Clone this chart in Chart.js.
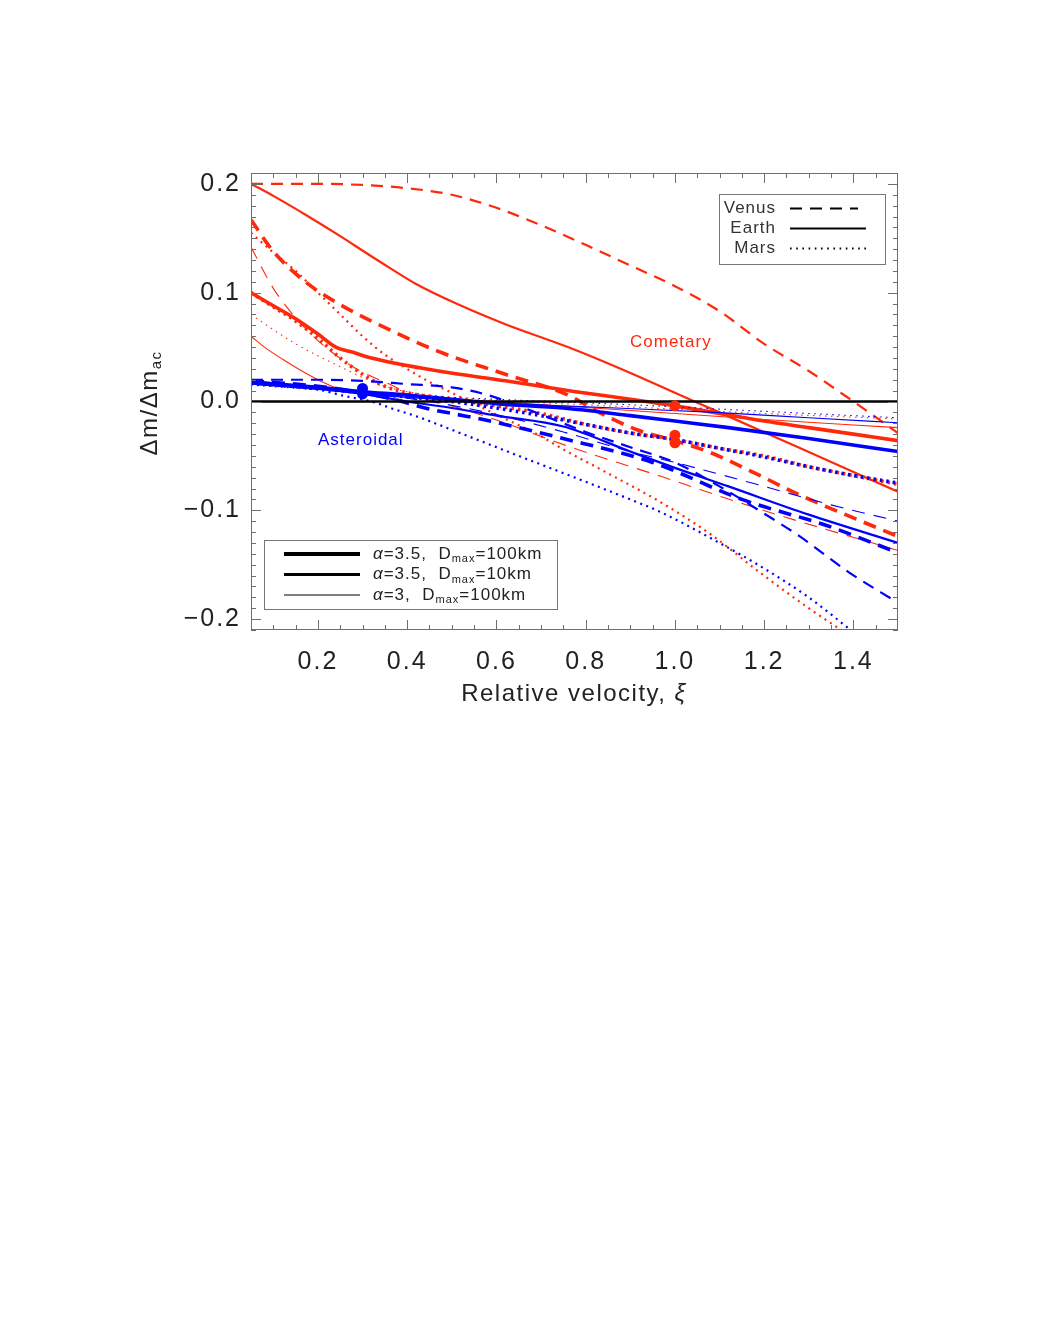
<!DOCTYPE html>
<html>
<head>
<meta charset="utf-8">
<title>Mass deviation vs relative velocity</title>
<script src="https://cdn.jsdelivr.net/npm/chart.js@4.4.1/dist/chart.umd.min.js"></script>
<style>
    html, body { margin: 0; padding: 0; background: #fff; }
    #wrap { position: relative; width: 1038px; height: 1343px; }
</style>
</head>
<body>
<div id="wrap"><canvas id="massChart"></canvas></div>
<script>
// --- Data ---
const xiTicks = [0.2, 0.4, 0.6, 0.8, 1.0, 1.2, 1.4];
const dmTicks = [-0.2, -0.1, 0.0, 0.1, 0.2];

// Cometary (red)
const cometVenusThick = [[0.05,0.167],[0.1,0.138],[0.175,0.109],[0.25,0.089],[0.36,0.066],[0.47,0.046],[0.62,0.025],[0.76,0.006],[0.83,-0.010],[0.915,-0.026],[1.0,-0.036],[1.08,-0.047],[1.19,-0.068],[1.28,-0.086],[1.4,-0.107],[1.5,-0.124]];
const cometVenusMid = [[0.05,0.2],[0.2,0.2],[0.3,0.199],[0.4,0.196],[0.5,0.19],[0.6,0.178],[0.7,0.162],[0.8,0.144],[0.9,0.125],[1.0,0.106],[1.1,0.083],[1.2,0.053],[1.3,0.028],[1.4,0.0],[1.5,-0.029]];
const cometVenusThin = [[0.05,0.142],[0.1,0.104],[0.15,0.077],[0.2,0.056],[0.27,0.034],[0.31,0.025],[0.36,0.016],[0.41,0.006],[0.5,-0.004],[0.6,-0.017],[0.76,-0.041],[0.97,-0.069],[1.19,-0.099],[1.5,-0.137]];
const cometEarthThick = [[0.05,0.1],[0.1,0.088],[0.15,0.076],[0.2,0.062],[0.24,0.05],[0.28,0.045],[0.32,0.04],[0.47,0.028],[0.62,0.019],[0.77,0.0095],[0.9,0.002],[1.0,-0.004],[1.1,-0.011],[1.2,-0.018],[1.3,-0.024],[1.4,-0.03],[1.5,-0.036]];
const cometEarthMid = [[0.05,0.2],[0.1,0.189],[0.175,0.171],[0.25,0.152],[0.31,0.136],[0.36,0.123],[0.42,0.108],[0.51,0.09],[0.62,0.071],[0.76,0.05],[0.89,0.028],[1.0,0.008],[1.1,-0.01],[1.27,-0.041],[1.5,-0.083]];
const cometEarthThin = [[0.05,0.06],[0.08,0.05],[0.12,0.039],[0.16,0.029],[0.22,0.016],[0.25,0.011],[0.3,0.008],[0.4,0.005],[0.6,0.0],[0.8,-0.0055],[1.0,-0.011],[1.2,-0.0165],[1.5,-0.024]];
const cometMarsThick = [[0.05,0.1],[0.1,0.087],[0.15,0.074],[0.2,0.058],[0.25,0.04],[0.3,0.025],[0.35,0.014],[0.4,0.008],[0.5,0.002],[0.6,-0.004],[0.7,-0.011],[0.8,-0.021],[0.9,-0.029],[1.0,-0.035],[1.1,-0.043],[1.2,-0.05],[1.3,-0.06],[1.4,-0.068],[1.5,-0.076]];
const cometMarsMid = [[0.05,0.155],[0.1,0.137],[0.15,0.12],[0.2,0.1],[0.25,0.08],[0.3,0.06],[0.35,0.043],[0.4,0.03],[0.45,0.018],[0.5,0.008],[0.6,-0.012],[0.7,-0.032],[0.75,-0.044],[0.85,-0.066],[0.97,-0.093],[1.08,-0.122],[1.19,-0.157],[1.3,-0.19],[1.38,-0.212]];
const cometMarsThin = [[0.05,0.08],[0.1,0.066],[0.15,0.053],[0.2,0.042],[0.25,0.032],[0.3,0.022],[0.35,0.014],[0.4,0.009],[0.5,0.004],[0.6,0.001],[0.8,-0.003],[1.0,-0.007],[1.2,-0.011],[1.5,-0.016]];

// Asteroidal (blue)
const astVenusThick = [[0.05,0.019],[0.2,0.014],[0.3,0.008],[0.38,0.001],[0.44,-0.006],[0.5,-0.011],[0.57,-0.0165],[0.65,-0.024],[0.74,-0.033],[0.95,-0.056],[1.15,-0.09],[1.34,-0.114],[1.5,-0.139]];
const astVenusMid = [[0.05,0.02],[0.2,0.02],[0.3,0.019],[0.4,0.016],[0.5,0.013],[0.58,0.006],[0.7,-0.012],[0.8,-0.028],[0.9,-0.042],[1.0,-0.056],[1.1,-0.078],[1.2,-0.103],[1.28,-0.124],[1.39,-0.157],[1.5,-0.185]];
const astVenusThin = [[0.05,0.016],[0.2,0.012],[0.3,0.008],[0.45,0.0],[0.6,-0.012],[0.75,-0.028],[0.9,-0.046],[1.0,-0.056],[1.2,-0.078],[1.35,-0.095],[1.5,-0.11]];
const astEarthThick = [[0.05,0.018],[0.2,0.013],[0.3,0.009],[0.4,0.006],[0.5,0.002],[0.6,-0.002],[0.75,-0.006],[0.9,-0.013],[1.0,-0.018],[1.12,-0.024],[1.3,-0.034],[1.5,-0.046]];
const astEarthMid = [[0.05,0.018],[0.2,0.012],[0.3,0.007],[0.4,0.0],[0.5,-0.006],[0.6,-0.013],[0.75,-0.023],[0.9,-0.046],[1.0,-0.061],[1.12,-0.078],[1.3,-0.104],[1.5,-0.13]];
const astEarthThin = [[0.05,0.016],[0.2,0.011],[0.3,0.007],[0.5,0.001],[0.75,-0.004],[1.09,-0.01],[1.3,-0.015],[1.5,-0.0195]];
const astMarsThick = [[0.05,0.018],[0.3,0.008],[0.5,0.0],[0.6,-0.006],[0.7,-0.013],[0.8,-0.021],[0.9,-0.029],[1.0,-0.035],[1.1,-0.043],[1.2,-0.051],[1.3,-0.06],[1.4,-0.068],[1.5,-0.075]];
const astMarsMid = [[0.05,0.016],[0.15,0.013],[0.2,0.011],[0.26,0.005],[0.32,0.0],[0.37,-0.007],[0.42,-0.0135],[0.5,-0.026],[0.65,-0.05],[0.77,-0.069],[0.9,-0.09],[0.97,-0.102],[1.1,-0.13],[1.19,-0.151],[1.3,-0.18],[1.4,-0.212]];
const astMarsThin = [[0.05,0.015],[0.3,0.008],[0.6,0.002],[0.9,-0.003],[1.2,-0.009],[1.5,-0.015]];

// Reference values marked by dots
const dotXi    = [0.3, 0.3, 1.0, 1.0, 1.0];
const dotDm    = [0.007, 0.012, -0.004, -0.031, -0.038];
const dotGroup = ['ast', 'ast', 'comet', 'comet', 'comet'];

const zeroLine = [[0.05, 0], [1.5, 0]];

// --- Styles ---
const RED = 'rgb(255,40,10)';
const BLUE = 'rgb(0,0,255)';
const WIDTH = { thick: 3.6, mid: 2.2, thin: 1.1 };
const DASH = {
    venus: { thick: [13, 8], mid: [12, 8], thin: [13, 9] },
    earth: { thick: [], mid: [], thin: [] },
    mars:  { thick: [2.5, 4], mid: [2, 4.5], thin: [1.5, 4.5] }
};
const FONT = '"Liberation Sans", "DejaVu Sans", sans-serif';

function curve(pts, color, planet, weight) {
    return {
        data: pts.map(p => ({ x: p[0], y: p[1] })),
        borderColor: color,
        borderWidth: WIDTH[weight],
        borderDash: DASH[planet][weight],
        showLine: true,
        pointRadius: 0,
        fill: false,
        cubicInterpolationMode: 'monotone'
    };
}

function minusFmt(v) {
    return (v < 0 ? '\u2212' : '') + Math.abs(v).toFixed(1);
}

function fontFor(p, size) {
    const px = p.sub ? Math.round(size * 0.62) : size;
    return (p.italic ? 'italic ' : '') + px + 'px ' + FONT;
}

// Draw a text made of normal and subscript parts
function drawRich(ctx, parts, x, y, size, align) {
    let total = 0;
    parts.forEach(p => {
        ctx.font = fontFor(p, size);
        p.w = ctx.measureText(p.t).width;
        total += p.w;
    });
    let cx = align === 'right' ? x - total : (align === 'center' ? x - total / 2 : x);
    parts.forEach(p => {
        ctx.font = fontFor(p, size);
        ctx.fillText(p.t, cx, p.sub ? y + Math.round(size * 0.28) : y);
        cx += p.w;
    });
}

// Frame, inward ticks, legends and labels
const decorPlugin = {
    id: 'decor',
    beforeDraw(chart) {
        chart.ctx.letterSpacing = '2px';
    },
    afterDraw(chart) {
        const ctx = chart.ctx;
        const { left, right, top, bottom } = chart.chartArea;
        const xs = chart.scales.x, ys = chart.scales.y;
        ctx.save();
        ctx.letterSpacing = '0px';
        ctx.strokeStyle = '#6e6e6e';
        ctx.lineWidth = 1;
        ctx.strokeRect(left + 0.5, top + 0.5, right - left - 1, bottom - top - 1);

        ctx.beginPath();
        for (let i = 1; i <= 29; i++) {
            const v = 0.05 * i;
            const px = Math.round(xs.getPixelForValue(v)) + 0.5;
            const major = xiTicks.some(t => Math.abs(t - v) < 1e-6);
            const len = major ? 10 : 5;
            ctx.moveTo(px, bottom); ctx.lineTo(px, bottom - len);
            ctx.moveTo(px, top); ctx.lineTo(px, top + len);
        }
        for (let i = -21; i <= 21; i++) {
            const v = 0.01 * i;
            const py = Math.round(ys.getPixelForValue(v)) + 0.5;
            const major = dmTicks.some(t => Math.abs(t - v) < 1e-6);
            const len = major ? 10 : 5;
            ctx.moveTo(left, py); ctx.lineTo(left + len, py);
            ctx.moveTo(right, py); ctx.lineTo(right - len, py);
        }
        ctx.stroke();

        // Axis titles
        ctx.fillStyle = '#222';
        ctx.textBaseline = 'middle';
        ctx.letterSpacing = '1.5px';
        drawRich(ctx, [{ t: 'Relative velocity, ' }, { t: '\u03BE', italic: true }], 574, 694, 24, 'center');
        ctx.save();
        ctx.translate(150, 403);
        ctx.rotate(-Math.PI / 2);
        drawRich(ctx, [{ t: '\u0394m/\u0394m' }, { t: 'ac', sub: true }], 0, 0, 24, 'center');
        ctx.restore();

        // Population labels
        ctx.letterSpacing = '1px';
        ctx.fillStyle = RED;
        drawRich(ctx, [{ t: 'Cometary' }], 630, 342, 17, 'left');
        ctx.fillStyle = BLUE;
        drawRich(ctx, [{ t: 'Asteroidal' }], 318, 440, 17, 'left');

        // Planet legend
        ctx.strokeStyle = '#777';
        ctx.lineWidth = 1;
        ctx.strokeRect(719.5, 194.5, 166, 70);
        ctx.fillStyle = '#333';
        const planetRows = [['Venus', DASH.venus.mid, 858], ['Earth', [], 866], ['Mars', [1.6, 4.6], 866]];
        planetRows.forEach((r, i) => {
            const y = 208 + i * 20;
            drawRich(ctx, [{ t: r[0] }], 776, y, 17, 'right');
            ctx.beginPath();
            ctx.setLineDash(r[1]);
            ctx.strokeStyle = '#000';
            ctx.lineWidth = 2.2;
            ctx.moveTo(790, y + 0.5); ctx.lineTo(r[2], y + 0.5);
            ctx.stroke();
        });
        ctx.setLineDash([]);

        // Size-distribution legend
        ctx.strokeStyle = '#777';
        ctx.lineWidth = 1;
        ctx.strokeRect(264.5, 540.5, 293, 69);
        const sizeRows = [[4.2, '3.5', '100km'], [2.8, '3.5', '10km'], [1.2, '3', '100km']];
        sizeRows.forEach((r, i) => {
            const y = 554 + i * 20.5;
            ctx.beginPath();
            ctx.strokeStyle = '#000';
            ctx.lineWidth = r[0];
            ctx.moveTo(284, y); ctx.lineTo(360, y);
            ctx.stroke();
            ctx.fillStyle = '#222';
            drawRich(ctx, [{ t: '\u03B1', italic: true }, { t: '=' + r[1] + ',  D' }, { t: 'max', sub: true }, { t: '=' + r[2] }], 373, y, 17, 'left');
        });
        ctx.restore();
    }
};

const datasets = [
    {
        data: dotXi.map((x, i) => ({ x: x, y: dotDm[i] })),
        pointRadius: 5.5,
        pointBackgroundColor: dotGroup.map(g => g === 'ast' ? BLUE : RED),
        pointBorderWidth: 0,
        showLine: false
    },
    {
        data: zeroLine.map(p => ({ x: p[0], y: p[1] })),
        borderColor: '#000', borderWidth: 2.4, pointRadius: 0, showLine: true
    },
    curve(astVenusThick, BLUE, 'venus', 'thick'),
    curve(astVenusMid, BLUE, 'venus', 'mid'),
    curve(astVenusThin, BLUE, 'venus', 'thin'),
    curve(astEarthThick, BLUE, 'earth', 'thick'),
    curve(astEarthMid, BLUE, 'earth', 'mid'),
    curve(astEarthThin, BLUE, 'earth', 'thin'),
    curve(astMarsThick, BLUE, 'mars', 'thick'),
    curve(astMarsMid, BLUE, 'mars', 'mid'),
    curve(astMarsThin, BLUE, 'mars', 'thin'),
    curve(cometVenusThick, RED, 'venus', 'thick'),
    curve(cometVenusMid, RED, 'venus', 'mid'),
    curve(cometVenusThin, RED, 'venus', 'thin'),
    curve(cometEarthThick, RED, 'earth', 'thick'),
    curve(cometEarthMid, RED, 'earth', 'mid'),
    curve(cometEarthThin, RED, 'earth', 'thin'),
    curve(cometMarsThick, RED, 'mars', 'thick'),
    curve(cometMarsMid, RED, 'mars', 'mid'),
    curve(cometMarsThin, RED, 'mars', 'thin')
];

new Chart(document.getElementById('massChart'), {
    type: 'scatter',
    data: { datasets: datasets },
    options: {
        responsive: true,
        maintainAspectRatio: false,
        animation: false,
        layout: { padding: { left: 0, top: 173, right: 140, bottom: 0 } },
        plugins: { legend: { display: false }, tooltip: { enabled: false } },
        scales: {
            x: {
                type: 'linear', min: 0.05, max: 1.5,
                grid: { display: false, drawTicks: false },
                border: { display: false },
                afterBuildTicks: s => { s.ticks = xiTicks.map(v => ({ value: v })); },
                afterFit: s => { s.height = 713; },
                ticks: {
                    padding: 17, color: '#222', maxRotation: 0,
                    font: { family: FONT, size: 25 },
                    callback: v => minusFmt(v)
                }
            },
            y: {
                type: 'linear', min: -0.21, max: 0.21,
                grid: { display: false, drawTicks: false },
                border: { display: false },
                afterBuildTicks: s => { s.ticks = dmTicks.map(v => ({ value: v })); },
                afterFit: s => { s.width = 251; },
                ticks: {
                    padding: 10, color: '#222',
                    font: { family: FONT, size: 25 },
                    callback: v => minusFmt(v)
                }
            }
        }
    },
    plugins: [decorPlugin]
});
</script>
</body>
</html>
